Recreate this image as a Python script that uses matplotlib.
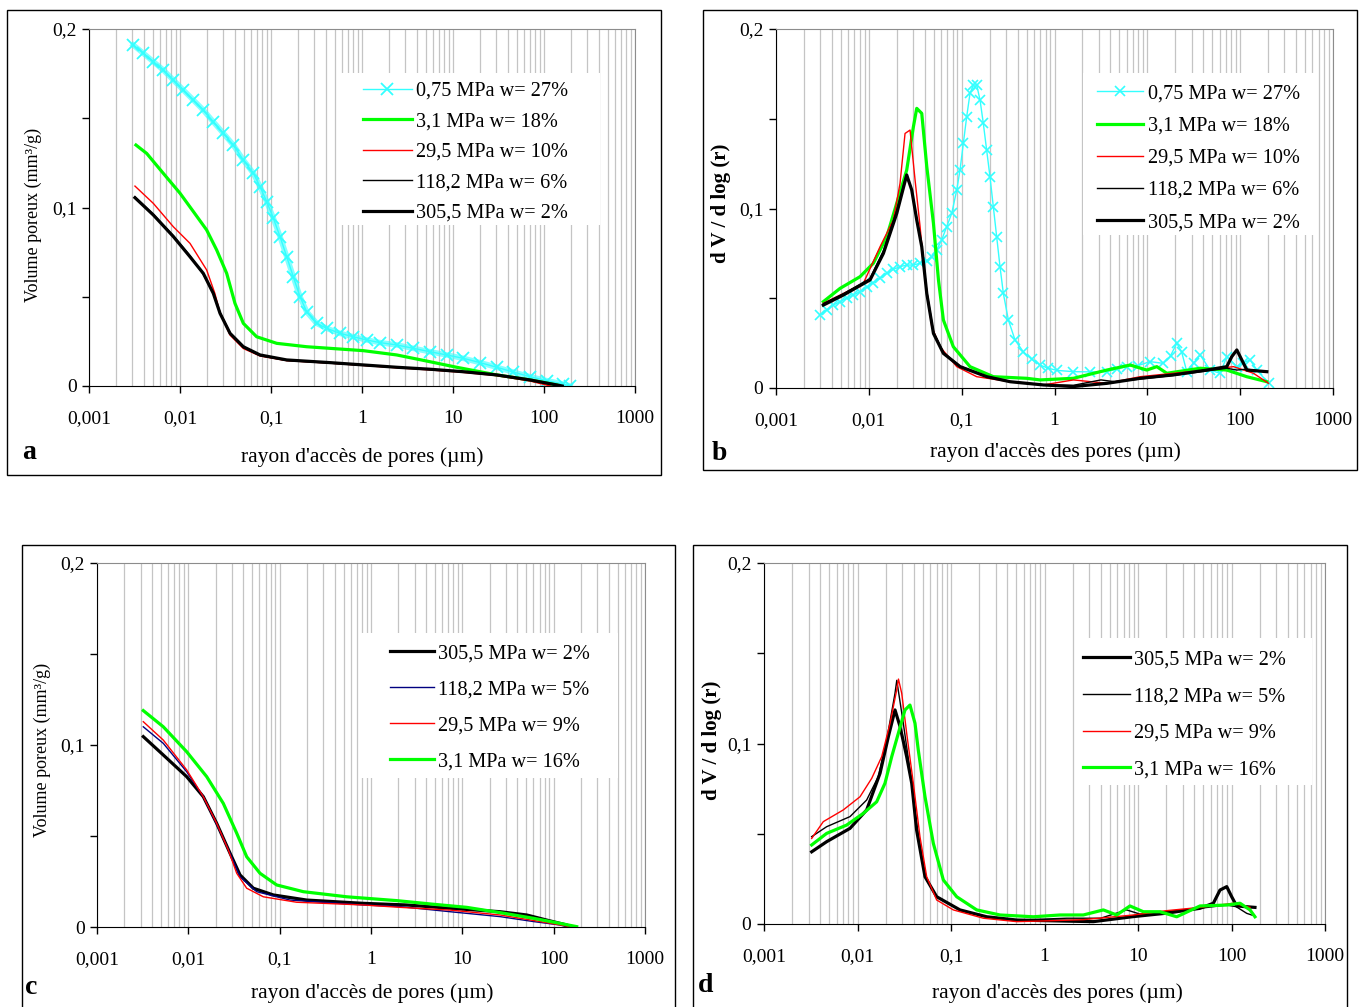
import numpy as np
import matplotlib
matplotlib.use('Agg')
import matplotlib.pyplot as plt
from matplotlib.patches import Rectangle
from matplotlib.ticker import LogLocator, NullFormatter

plt.rcParams['font.family'] = ['Liberation Serif', 'DejaVu Serif']
plt.rcParams['font.size'] = 14

# rayons lus en log10(r), r en µm ; valeurs en mm3/g

# --- a : volume poreux cumulé
a_cyan_lg = [-2.513, -2.403, -2.293, -2.183, -2.073, -1.963, -1.853, -1.744, -1.634, -1.524,
             -1.414, -1.304, -1.194, -1.121, -1.047, -0.974, -0.901, -0.827, -0.755, -0.681,
             -0.608, -0.498, -0.388, -0.242, -0.096, 0.051, 0.198, 0.381, 0.564, 0.747,
             0.93, 1.114, 1.297, 1.48, 1.663, 1.846, 2.03, 2.212, 2.286]
a_cyan_v = [0.191, 0.1864, 0.1817, 0.177, 0.1714, 0.1658, 0.1602, 0.1546, 0.148, 0.1416,
            0.135, 0.1266, 0.1192, 0.1117, 0.1033, 0.094, 0.0837, 0.0724, 0.0612, 0.050,
            0.0416, 0.0351, 0.0323, 0.0295, 0.0276, 0.0258, 0.0243, 0.023, 0.0211, 0.0192,
            0.0174, 0.0155, 0.0131, 0.0105, 0.0078, 0.0052, 0.003, 0.0011, 0.0]
a_green_lg = [-2.484, -2.366, -2.183, -2.0, -1.853, -1.707, -1.597, -1.487, -1.396, -1.304,
              -1.158, -0.937, -0.608, -0.352, 0.014, 0.381, 0.747, 1.04, 1.297, 1.48,
              1.846, 2.139]
a_green_v = [0.135, 0.1303, 0.1191, 0.108, 0.0977, 0.0874, 0.0762, 0.0631, 0.0463, 0.0351,
             0.0276, 0.0239, 0.022, 0.0211, 0.0198, 0.0174, 0.0136, 0.0105, 0.008, 0.0062,
             0.0034, 0.0006]
a_red_lg = [-2.495, -2.293, -2.073, -1.89, -1.707, -1.617, -1.56, -1.45, -1.304, -1.121,
            -0.827, -0.352, 0.014, 0.381, 0.747, 1.114, 1.48, 1.846, 2.07]
a_red_v = [0.112, 0.1023, 0.0892, 0.0799, 0.065, 0.0519, 0.041, 0.0285, 0.021, 0.0168,
           0.0142, 0.0128, 0.0115, 0.0102, 0.009, 0.0076, 0.0058, 0.0028, 0.0]
a_blk1_lg = [-2.495, -2.293, -2.073, -1.89, -1.744, -1.634, -1.56, -1.45, -1.304, -1.121,
             -0.827, -0.352, 0.014, 0.381, 0.747, 1.114, 1.48, 1.846, 2.1, 2.2]
a_blk1_v = [0.106, 0.0962, 0.0842, 0.073, 0.0625, 0.0525, 0.0412, 0.0298, 0.0215, 0.017,
            0.0143, 0.0128, 0.0116, 0.0104, 0.0092, 0.0079, 0.006, 0.0032, 0.0008, 0.0]
a_blk2_lg = [-2.495, -2.293, -2.073, -1.89, -1.744, -1.634, -1.56, -1.45, -1.304, -1.121,
             -0.827, -0.352, 0.014, 0.381, 0.747, 1.114, 1.48, 1.846, 2.139, 2.2]
a_blk2_v = [0.1055, 0.0958, 0.0837, 0.0724, 0.0631, 0.0519, 0.0407, 0.0295, 0.022, 0.0174,
            0.0146, 0.0131, 0.0118, 0.0105, 0.0094, 0.008, 0.0062, 0.0034, 0.0006, 0.0]

# --- b : dV / dlog(r)
b_cyan_lg = [-2.526, -2.454, -2.383, -2.311, -2.239, -2.167, -2.095, -2.023, -1.952, -1.88,
             -1.808, -1.736, -1.664, -1.592, -1.521, -1.449, -1.377, -1.323, -1.269, -1.215,
             -1.161, -1.107, -1.053, -1.018, -0.982, -0.946, -0.91, -0.874, -0.838, -0.802,
             -0.767, -0.731, -0.695, -0.659, -0.623, -0.587, -0.551, -0.497, -0.425, -0.336,
             -0.246, -0.156, -0.067, 0.03, 0.204, 0.38, 0.564, 0.67, 0.779, 0.9,
             1.03, 1.174, 1.25, 1.318, 1.37, 1.425, 1.5, 1.569, 1.677, 1.784,
             1.856, 1.964, 2.03, 2.108, 2.18, 2.306]
b_cyan_v = [0.0407, 0.0435, 0.0462, 0.0481, 0.050, 0.0518, 0.0537, 0.0561, 0.0587, 0.0611,
            0.0639, 0.0661, 0.0676, 0.0685, 0.0685, 0.0695, 0.0709, 0.0731, 0.0769, 0.0825,
            0.0899, 0.0973, 0.1103, 0.1214, 0.1363, 0.1511, 0.1642, 0.1688, 0.1688, 0.1604,
            0.1475, 0.1326, 0.1177, 0.101, 0.0843, 0.0676, 0.0527, 0.0379, 0.0267, 0.0202,
            0.016, 0.0128, 0.011, 0.0098, 0.0091, 0.009, 0.0091, 0.0105, 0.0119, 0.0125,
            0.0147, 0.0137, 0.018, 0.025, 0.020, 0.0091, 0.014, 0.0184, 0.010, 0.0082,
            0.0175, 0.0119, 0.014, 0.0156, 0.010, 0.0026]
b_green_lg = [-2.49, -2.31, -2.095, -1.951, -1.807, -1.699, -1.592, -1.52, -1.484, -1.43,
              -1.376, -1.304, -1.25, -1.197, -1.09, -0.91, -0.658, -0.3, -0.155, 0.204,
              0.564, 0.815, 0.994, 1.102, 1.21, 1.569, 1.856, 2.071, 2.287]
b_green_v = [0.0481, 0.0555, 0.062, 0.0695, 0.0843, 0.103, 0.1214, 0.1455, 0.1558, 0.153,
             0.1234, 0.0917, 0.0602, 0.0379, 0.023, 0.0119, 0.0063, 0.0054, 0.0045, 0.0054,
             0.010, 0.0128, 0.010, 0.0119, 0.0082, 0.011, 0.010, 0.0063, 0.0035]
b_red_lg = [-2.49, -2.274, -2.059, -1.879, -1.736, -1.664, -1.61, -1.556, -1.502, -1.448,
            -1.394, -1.322, -1.233, -1.053, -0.838, -0.478, -0.12, 0.204, 0.564, 0.923,
            1.282, 1.641, 1.928, 2.143, 2.306]
b_red_v = [0.0472, 0.0527, 0.0583, 0.0787, 0.0936, 0.114, 0.1418, 0.1437, 0.1159, 0.0899,
           0.0602, 0.0342, 0.023, 0.0119, 0.0063, 0.0035, 0.0017, 0.0045, 0.0026, 0.0063,
           0.0082, 0.010, 0.0119, 0.0082, 0.0026]
b_blk1_lg = [-2.49, -2.274, -1.987, -1.843, -1.699, -1.6, -1.545, -1.484, -1.43, -1.376,
             -1.304, -1.197, -1.017, -0.73, -0.478, -0.12, 0.204, 0.5, 0.65, 0.923,
             1.282, 1.641, 1.856, 1.964, 2.072, 2.287]
b_blk1_v = [0.047, 0.0525, 0.061, 0.0765, 0.099, 0.118, 0.112, 0.0945, 0.08, 0.054,
            0.0315, 0.0198, 0.0122, 0.0065, 0.0036, 0.0018, 0.0015, 0.0045, 0.0035, 0.005,
            0.007, 0.0095, 0.011, 0.010, 0.0105, 0.009]
b_blk2_lg = [-2.49, -2.274, -1.987, -1.843, -1.699, -1.592, -1.538, -1.484, -1.43, -1.376,
             -1.304, -1.197, -1.017, -0.73, -0.478, -0.12, 0.204, 0.564, 0.923, 1.282,
             1.641, 1.856, 1.91, 1.964, 2.018, 2.072, 2.287]
b_blk2_v = [0.0462, 0.0518, 0.0602, 0.075, 0.0973, 0.1187, 0.1103, 0.0936, 0.0787, 0.0527,
            0.0304, 0.0193, 0.0119, 0.0063, 0.0035, 0.0017, 0.0008, 0.0026, 0.0054, 0.0073,
            0.010, 0.0119, 0.0175, 0.0212, 0.0156, 0.010, 0.0091]

# --- c : volume poreux cumulé
c_blk2_lg = [-2.493, -2.274, -2.018, -1.836, -1.69, -1.543, -1.434, -1.288, -1.069, -0.704,
             -0.084, 0.391, 0.865, 1.413, 1.705, 1.924, 2.143, 2.2]
c_blk2_v = [0.1046, 0.0945, 0.0826, 0.0716, 0.057, 0.0405, 0.0286, 0.0213, 0.0176, 0.0148,
            0.013, 0.0121, 0.0103, 0.0084, 0.0066, 0.0038, 0.0011, 0.0]
c_blue_lg = [-2.493, -2.274, -2.018, -1.836, -1.69, -1.543, -1.434, -1.252, -0.887, -0.084,
             0.318, 0.865, 1.413, 1.777, 2.069, 2.15]
c_blue_v = [0.110, 0.1009, 0.0853, 0.0716, 0.0565, 0.0405, 0.0276, 0.0194, 0.0148, 0.0121,
            0.0112, 0.0084, 0.0057, 0.003, 0.0011, 0.0]
c_red_lg = [-2.493, -2.274, -2.018, -1.836, -1.69, -1.562, -1.47, -1.361, -1.179, -0.814,
            -0.084, 0.318, 0.865, 1.413, 1.85, 2.143, 2.17]
c_red_v = [0.1128, 0.1027, 0.0863, 0.0716, 0.057, 0.0423, 0.0295, 0.0213, 0.0166, 0.0136,
           0.0121, 0.0108, 0.0093, 0.0066, 0.003, 0.0005, 0.0]
c_green_lg = [-2.493, -2.274, -2.018, -1.799, -1.617, -1.47, -1.361, -1.215, -1.033, -0.741,
              -0.266, 0.281, 0.683, 1.048, 1.413, 1.777, 2.069, 2.252]
c_green_v = [0.1189, 0.110, 0.0963, 0.0826, 0.0679, 0.0515, 0.0386, 0.0295, 0.0231, 0.0194,
             0.0166, 0.0145, 0.0125, 0.0108, 0.0079, 0.0048, 0.002, 0.0002]

# --- d : dV / dlog(r)
d_blk2_lg = [-2.49, -2.33, -2.08, -1.902, -1.759, -1.67, -1.599, -1.545, -1.474, -1.42,
             -1.368, -1.278, -1.153, -0.904, -0.618, -0.297, 0.059, 0.522, 0.95, 1.307,
             1.663, 1.806, 1.877, 1.949, 2.002, 2.055, 2.251]
d_blk2_v = [0.040, 0.0456, 0.053, 0.0632, 0.0835, 0.1038, 0.1186, 0.1094, 0.0927, 0.078,
            0.0521, 0.0262, 0.0151, 0.0078, 0.004, 0.0022, 0.0018, 0.0013, 0.0041, 0.006,
            0.0087, 0.0115, 0.0188, 0.0207, 0.0151, 0.010, 0.0092]
d_blk1_lg = [-2.49, -2.33, -2.08, -1.902, -1.778, -1.688, -1.599, -1.58, -1.51, -1.439,
             -1.368, -1.278, -1.153, -0.904, -0.618, -0.297, 0.237, 0.6, 0.879, 1.02,
             1.663, 1.949, 2.05, 2.163, 2.251]
d_blk1_v = [0.0484, 0.0539, 0.0595, 0.0687, 0.0816, 0.1019, 0.1278, 0.135, 0.1112, 0.0853,
            0.0558, 0.0262, 0.0151, 0.0078, 0.004, 0.0022, 0.0032, 0.0032, 0.0078, 0.0055,
            0.0087, 0.0105, 0.0096, 0.0059, 0.0044]
d_red_lg = [-2.49, -2.366, -2.152, -1.973, -1.848, -1.741, -1.652, -1.581, -1.562, -1.527,
            -1.474, -1.403, -1.332, -1.26, -1.153, -0.975, -0.654, -0.297, 0.059, 0.415,
            0.95, 1.307, 1.663, 2.02, 2.198]
d_red_v = [0.0474, 0.0567, 0.0632, 0.0705, 0.0807, 0.0927, 0.1112, 0.1296, 0.1357, 0.1278,
           0.1057, 0.078, 0.0484, 0.0262, 0.0133, 0.0078, 0.0032, 0.0013, 0.0018, 0.0024,
           0.005, 0.0074, 0.0092, 0.0115, 0.0092]
d_green_lg = [-2.49, -2.33, -2.116, -1.938, -1.795, -1.706, -1.634, -1.563, -1.492, -1.439,
              -1.385, -1.35, -1.278, -1.189, -1.082, -0.939, -0.725, -0.476, -0.12, 0.166,
              0.415, 0.629, 0.772, 0.914, 1.057, 1.235, 1.414, 1.663, 1.949, 2.091,
              2.198, 2.251]
d_green_v = [0.0438, 0.0502, 0.0548, 0.0613, 0.0677, 0.078, 0.0927, 0.1057, 0.1186, 0.1213,
             0.1112, 0.0964, 0.0705, 0.0447, 0.0244, 0.0151, 0.0078, 0.005, 0.004, 0.005,
             0.005, 0.0078, 0.005, 0.010, 0.0068, 0.0068, 0.004, 0.010, 0.0105, 0.0115,
             0.0078, 0.004]

labels_ab = ['0,75 MPa w= 27%', '3,1 MPa w= 18%', '29,5 MPa w= 10%',
             '118,2 MPa w= 6%', '305,5 MPa w= 2%']
labels_cd = ['305,5 MPa w= 2%', '118,2 MPa w= 5%', '29,5 MPa w= 9%', '3,1 MPa w= 16%']
x_ticks = [0.001, 0.01, 0.1, 1, 10, 100, 1000]
x_ticklabels = ['0,001', '0,01', '0,1', '1', '10', '100', '1000']
y_ticks = [0, 0.05, 0.1, 0.15, 0.2]
y_ticklabels = ['0', '', '0,1', '', '0,2']

CYAN, GREEN, RED, NAVY, BLACK = '#33ffff', '#00ff00', '#ff0000', '#000080', '#000000'
W, H = 1367, 1007

fig = plt.figure(figsize=(W / 100, H / 100), dpi=100)


def px_axes(l, t, r, b):
    return fig.add_axes([l / W, 1 - b / H, (r - l) / W, (b - t) / H])


def fig_text(x, y, s, **kw):
    fig.text(x / W, 1 - y / H, s, ha='center', va='center', **kw)


def frame(l, t, r, b):
    fig.add_artist(Rectangle((l / W, 1 - b / H), (r - l) / W, (b - t) / H, fill=False,
                             ec='black', lw=1.0, transform=fig.transFigure))


def style_axes(ax, legbox, legpos, spacing, hlen):
    ax.set_xscale('log')
    ax.set_xlim(0.001, 1000)
    ax.set_ylim(0, 0.2)
    ax.set_xticks(x_ticks)
    ax.set_xticklabels(x_ticklabels)
    ax.xaxis.set_minor_locator(LogLocator(base=10, subs=range(2, 10)))
    ax.xaxis.set_minor_formatter(NullFormatter())
    ax.set_yticks(y_ticks)
    ax.set_yticklabels(y_ticklabels)
    ax.set_axisbelow(True)
    ax.grid(which='both', axis='x', color='#c4c4c4', lw=0.9)
    ax.tick_params(which='major', direction='out', length=5, width=1, labelsize=14)
    ax.tick_params(axis='x', which='major', pad=12)
    ax.tick_params(axis='y', which='major', pad=4)
    ax.tick_params(which='minor', length=0)
    for s in ['top', 'right']:
        ax.spines[s].set_color('#8c8c8c')
    for s in ['left', 'bottom']:
        ax.spines[s].set_color('black')
    x0, y0, x1, y1 = legbox
    ax.add_patch(Rectangle((x0, y0), x1 - x0, y1 - y0, transform=ax.transAxes,
                           fc='white', ec='none', zorder=1))
    ax.legend(loc='upper left', bbox_to_anchor=legpos, frameon=False, fontsize=14.6,
              borderpad=0, borderaxespad=0, labelspacing=spacing, handlelength=hlen,
              handletextpad=0.2)


def lg(v):
    return 10 ** np.array(v)


# a
ax = px_axes(89, 29, 635, 386)
ax.plot(lg(a_cyan_lg), a_cyan_v, color=CYAN, lw=4.0, alpha=0.6)
ax.plot(lg(a_cyan_lg), a_cyan_v, color=CYAN, lw=1.0, marker='x', ms=8, mew=1.3, label=labels_ab[0])
ax.plot(lg(a_green_lg), a_green_v, color=GREEN, lw=2.3, label=labels_ab[1])
ax.plot(lg(a_red_lg), a_red_v, color=RED, lw=1.0, label=labels_ab[2])
ax.plot(lg(a_blk1_lg), a_blk1_v, color=BLACK, lw=1.0, label=labels_ab[3])
ax.plot(lg(a_blk2_lg), a_blk2_v, color=BLACK, lw=2.3, label=labels_ab[4])
style_axes(ax, (0.456, 0.451, 0.936, 0.877), (0.502, 0.853), 0.56, 2.4)

# b
ax = px_axes(776, 29, 1333, 388)
ax.plot(lg(b_cyan_lg), b_cyan_v, color=CYAN, lw=1.0, marker='x', ms=7, mew=1.2, label=labels_ab[0])
ax.plot(lg(b_green_lg), b_green_v, color=GREEN, lw=2.3, label=labels_ab[1])
ax.plot(lg(b_red_lg), b_red_v, color=RED, lw=1.0, label=labels_ab[2])
ax.plot(lg(b_blk1_lg), b_blk1_v, color=BLACK, lw=1.0, label=labels_ab[3])
ax.plot(lg(b_blk2_lg), b_blk2_v, color=BLACK, lw=2.3, label=labels_ab[4])
style_axes(ax, (0.551, 0.426, 0.968, 0.877), (0.576, 0.846), 0.64, 2.3)

# c
ax = px_axes(97, 563, 645, 927)
ax.plot(lg(c_blk2_lg), c_blk2_v, color=BLACK, lw=2.3, label=labels_cd[0])
ax.plot(lg(c_blue_lg), c_blue_v, color=NAVY, lw=1.0, label=labels_cd[1])
ax.plot(lg(c_red_lg), c_red_v, color=RED, lw=1.0, label=labels_cd[2])
ax.plot(lg(c_green_lg), c_green_v, color=GREEN, lw=2.3, label=labels_cd[3])
style_axes(ax, (0.48, 0.409, 0.951, 0.808), (0.535, 0.777), 0.83, 2.15)

# d
ax = px_axes(764, 563, 1325, 924)
ax.plot(lg(d_blk2_lg), d_blk2_v, color=BLACK, lw=2.3, label=labels_cd[0])
ax.plot(lg(d_blk1_lg), d_blk1_v, color=BLACK, lw=1.0, label=labels_cd[1])
ax.plot(lg(d_red_lg), d_red_v, color=RED, lw=1.0, label=labels_cd[2])
ax.plot(lg(d_green_lg), d_green_v, color=GREEN, lw=2.3, label=labels_cd[3])
style_axes(ax, (0.554, 0.385, 0.977, 0.792), (0.569, 0.758), 0.86, 2.3)

# cadres, titres d'axes, lettres
frame(7, 10, 661, 475)
frame(703, 10, 1357, 470)
frame(22, 545, 675, 1015)
frame(693, 545, 1347, 1015)

fig_text(362, 457, "rayon d'accès de pores (µm)", fontsize=15.5)
fig_text(1055, 452, "rayon d'accès des pores (µm)", fontsize=15.5)
fig_text(372, 993, "rayon d'accès de pores (µm)", fontsize=15.5)
fig_text(1057, 993, "rayon d'accès des pores (µm)", fontsize=15.5)

fig_text(33, 215, 'Volume poreux (mm³/g)', fontsize=13, rotation=90)
fig_text(721, 203, 'd V / d log (r)', fontsize=15, rotation=90, fontweight='bold')
fig_text(42, 750, 'Volume poreux (mm³/g)', fontsize=13, rotation=90)
fig_text(712, 740, 'd V / d log (r)', fontsize=15, rotation=90, fontweight='bold')

fig_text(29, 452, 'a', fontsize=20, fontweight='bold')
fig_text(719, 453, 'b', fontsize=20, fontweight='bold')
fig_text(31, 987, 'c', fontsize=20, fontweight='bold')
fig_text(706, 986, 'd', fontsize=20, fontweight='bold')

fig.savefig('out.png', dpi=100)
